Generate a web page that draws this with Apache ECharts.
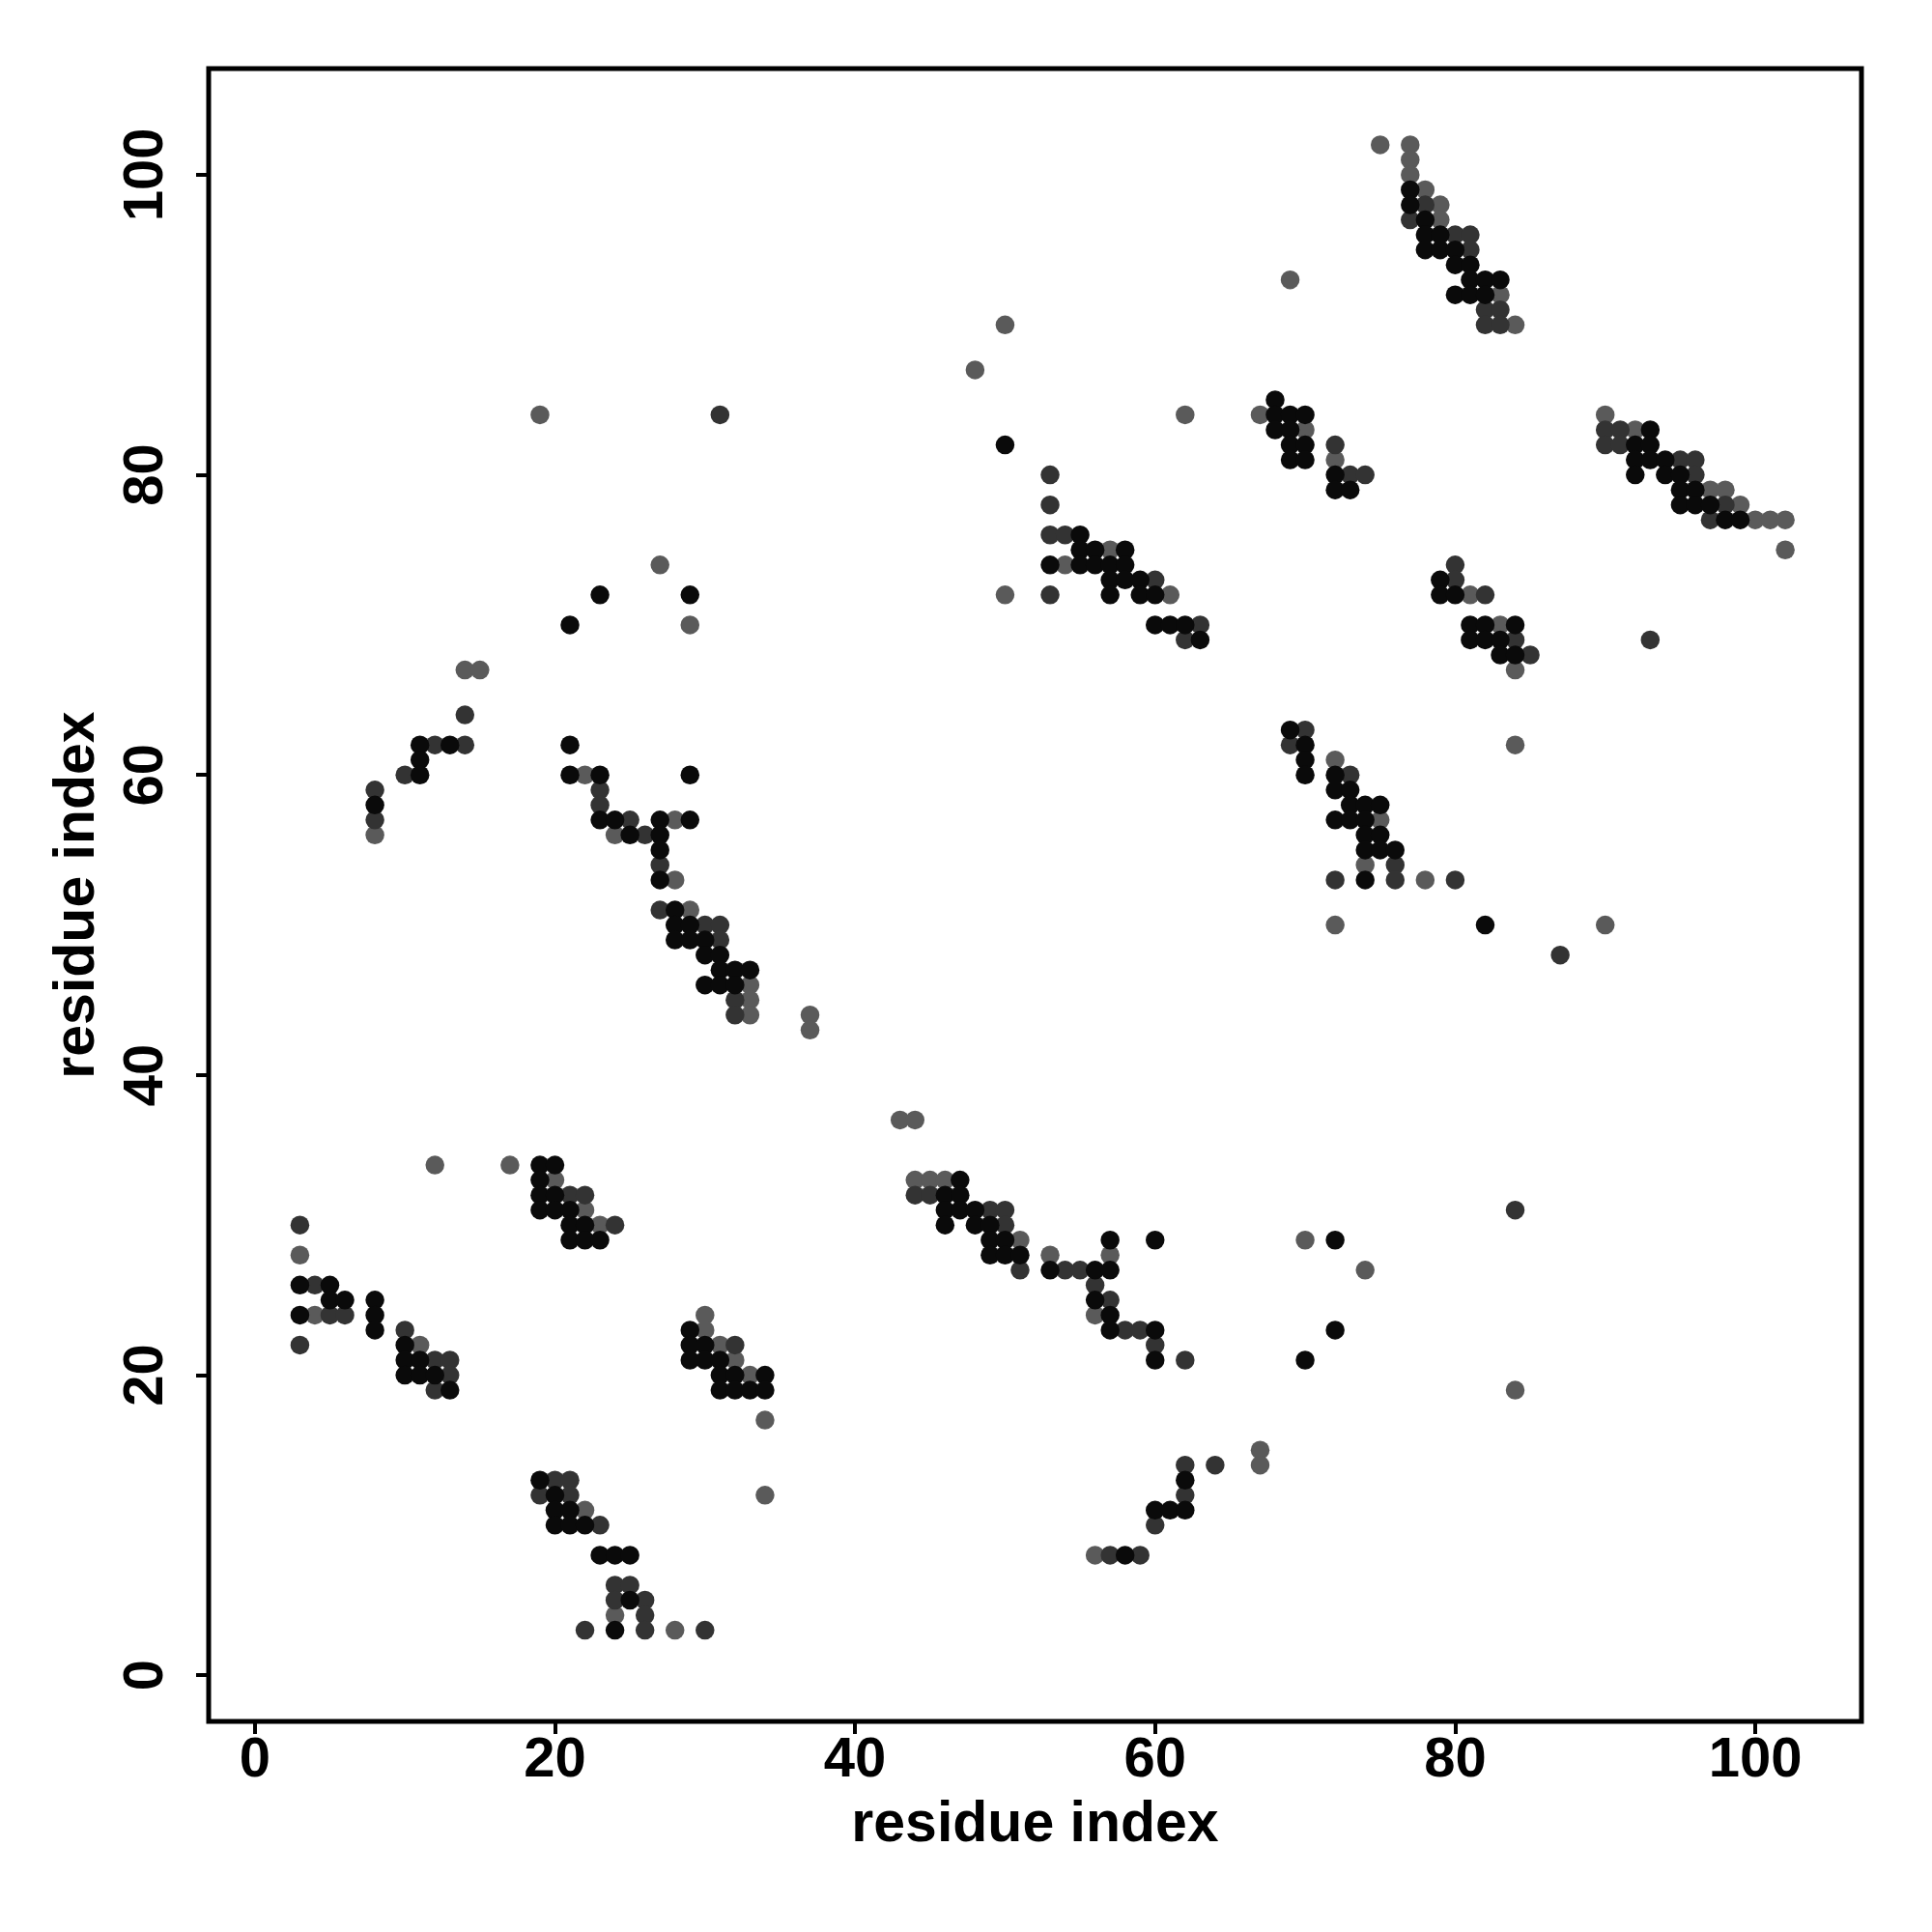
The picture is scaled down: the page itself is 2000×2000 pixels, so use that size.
<!DOCTYPE html>
<html>
<head>
<meta charset="utf-8">
<script src="https://cdn.jsdelivr.net/npm/echarts@6/dist/echarts.min.js"></script>
<style>
html,body{margin:0;padding:0;background:#fff;}
#chart{width:2000px;height:2000px;}
</style>
</head>
<body>
<div id="chart"></div>
<script>
// contact map points, grouped by shade
var blackPts = [
[3,26],[5,26],[5,25],[6,25],[3,24],[8,25],[8,24],[8,23],[10,22],[10,21],[11,21],[10,20],[11,20],[12,20],[13,19],
[19,34],[20,34],[19,33],[19,32],[20,32],[19,31],[20,31],[21,31],[21,30],[22,30],[21,29],[22,29],[23,29],
[29,23],[29,22],[30,22],[29,21],[30,21],[31,21],[31,20],[32,20],[34,20],[31,19],[32,19],[33,19],[34,19],
[19,13],[20,12],[20,11],[21,11],[20,10],[21,10],[22,10],[23,8],[24,8],[25,8],[25,5],[24,3],
[47,33],[46,32],[47,32],[46,31],[47,31],[48,31],[46,30],[48,30],[49,30],[49,29],[50,29],[49,28],[50,28],[51,28],[53,27],[56,27],[57,27],[57,29],[60,29],[56,25],[57,24],[57,23],[60,23],[60,21],
[58,8],[60,11],[61,11],[62,11],[62,13],
[11,62],[13,62],[11,61],[11,60],[8,58],
[21,62],[21,60],[23,60],[29,60],[23,57],[24,57],[27,57],[29,57],[25,56],[27,56],[27,55],[27,53],[28,51],[28,50],[29,50],[28,49],[29,49],[30,49],[30,48],[31,48],[31,47],[32,47],[33,47],[30,46],[31,46],[32,46],
[50,82],[55,76],[55,75],[56,75],[58,75],[53,74],[55,74],[56,74],[57,74],[58,74],[57,73],[58,73],[59,73],[57,72],[59,72],[60,72],[60,70],[61,70],[62,70],[63,69],
[68,85],[68,84],[69,84],[70,84],[68,83],[69,83],[69,82],[70,82],[69,81],[70,81],[72,80],[72,79],[73,79],
[79,73],[79,72],[80,72],[81,70],[82,70],[84,70],[81,69],[82,69],[83,69],[83,68],[84,68],
[69,63],[70,62],[70,61],[70,60],[72,60],[72,59],[73,59],[73,58],[74,58],[75,58],[72,57],[73,57],[74,57],[74,56],[75,56],[74,55],[75,55],[76,55],[74,53],
[77,99],[77,98],[78,97],[78,96],[79,96],[78,95],[79,95],[80,95],[80,94],[81,94],[81,93],[82,93],[83,93],[80,92],[81,92],[82,92],
[93,83],[92,82],[93,82],[92,81],[93,81],[94,81],[92,80],[94,80],[95,80],[95,79],[96,79],[95,78],[96,78],[97,78],[98,77],[99,77],
[21,70],[23,72],[29,72],[72,29],[72,23],[70,21],[82,50]
];
var darkPts = [
[3,30],[4,26],[5,24],[6,24],[3,22],[10,23],[12,21],[13,21],[13,20],[12,19],
[21,32],[22,32],[24,30],[32,22],
[20,13],[21,13],[19,12],[21,12],[23,10],[24,6],[25,6],[24,5],[26,5],[26,4],[22,3],[26,3],[30,3],
[44,32],[45,32],[49,31],[50,31],[50,30],[51,27],[54,27],[55,27],[56,26],[57,25],[58,23],[59,23],[60,22],[62,21],
[57,8],[59,8],[60,10],[62,12],[62,14],[64,14],
[14,64],[12,62],[14,62],[10,60],[8,59],[8,57],
[23,59],[23,58],[25,57],[26,56],[27,54],[27,51],[30,50],[31,50],[31,49],[32,45],[32,44],
[53,80],[53,78],[53,76],[54,76],[60,73],[53,72],[63,70],[62,69],
[72,82],[73,80],[74,80],
[80,74],[80,73],[82,72],[84,69],[85,68],
[70,63],[69,62],[73,60],[76,54],[72,53],[76,53],[80,53],
[78,98],[77,97],[80,96],[81,96],[81,95],[82,91],[83,91],[82,90],[83,90],
[90,83],[91,83],[90,82],[91,82],[95,81],[96,81],[96,80],[98,78],[97,77],
[31,84],[84,31],[87,48],[93,69]
];
var grayPts = [
[3,28],[4,24],[11,22],
[17,34],[20,33],[22,31],[23,30],[30,24],[30,23],[31,22],[32,21],[33,20],[34,17],[34,12],
[22,11],[24,4],[28,3],
[43,37],[44,37],[44,33],[45,33],[46,33],[51,29],[53,28],[57,28],[56,24],
[56,8],[67,15],[67,14],
[14,67],[15,67],[8,56],
[22,60],[28,57],[24,56],[28,53],[29,51],[33,46],[33,45],[33,44],[37,44],[37,43],
[50,90],[48,87],[62,84],[57,75],[54,74],[50,72],[61,72],
[67,84],[70,83],[72,81],
[81,72],[83,70],[84,67],
[72,61],[75,57],[74,54],[78,53],
[75,102],[77,102],[77,101],[77,100],[78,99],[79,98],[79,97],[83,92],[84,90],
[90,84],[92,83],[97,79],[98,79],[99,78],[100,77],[101,77],[102,77],[102,75],
[19,84],[27,74],[29,70],[12,34],[69,93],[70,29],[74,27],[84,19],[72,50],[90,50],[84,62]
];
var tickValues = [0, 20, 40, 60, 80, 100];
var axisTitle = 'residue index';

var chart = echarts.init(document.getElementById('chart'), null, {renderer: 'canvas'});
var font = 'Liberation Sans, Arial, Helvetica, sans-serif';
function mkSeries(data, color) {
  return {
    type: 'scatter', data: data, symbol: 'circle', symbolSize: 19.5,
    itemStyle: {color: color, opacity: 1}, emphasis: {disabled: true}, silent: true
  };
}
chart.setOption({
  animation: false,
  backgroundColor: '#ffffff',
  grid: {left: 216, top: 71, width: 1711, height: 1711, show: true, borderColor: '#000', borderWidth: 5, backgroundColor: 'transparent'},
  xAxis: {
    type: 'value', min: -3.08, max: 107.08,
    axisLine: {show: false, onZero: false},
    splitLine: {show: false},
    axisTick: {show: true, inside: false, length: 13, lineStyle: {color: '#000', width: 4}, customValues: tickValues},
    axisLabel: {customValues: tickValues, margin: 12, color: '#000', fontSize: 58, fontWeight: 'bold', fontFamily: font},
    name: axisTitle, nameLocation: 'middle', nameGap: 78,
    nameTextStyle: {color: '#000', fontSize: 59, fontWeight: 'bold', fontFamily: font}
  },
  yAxis: {
    type: 'value', min: -3.08, max: 107.08,
    axisLine: {show: false, onZero: false},
    splitLine: {show: false},
    axisTick: {show: true, inside: false, length: 13, lineStyle: {color: '#000', width: 4}, customValues: tickValues},
    axisLabel: {customValues: tickValues, rotate: 90, margin: 35, color: '#000', fontSize: 58, fontWeight: 'bold', fontFamily: font},
    name: axisTitle, nameLocation: 'middle', nameGap: 106, nameRotate: 90,
    nameTextStyle: {color: '#000', fontSize: 59, fontWeight: 'bold', fontFamily: font}
  },
  series: [mkSeries(grayPts, '#5a5a5a'), mkSeries(darkPts, '#333333'), mkSeries(blackPts, '#0a0a0a')]
});
</script>
</body>
</html>
